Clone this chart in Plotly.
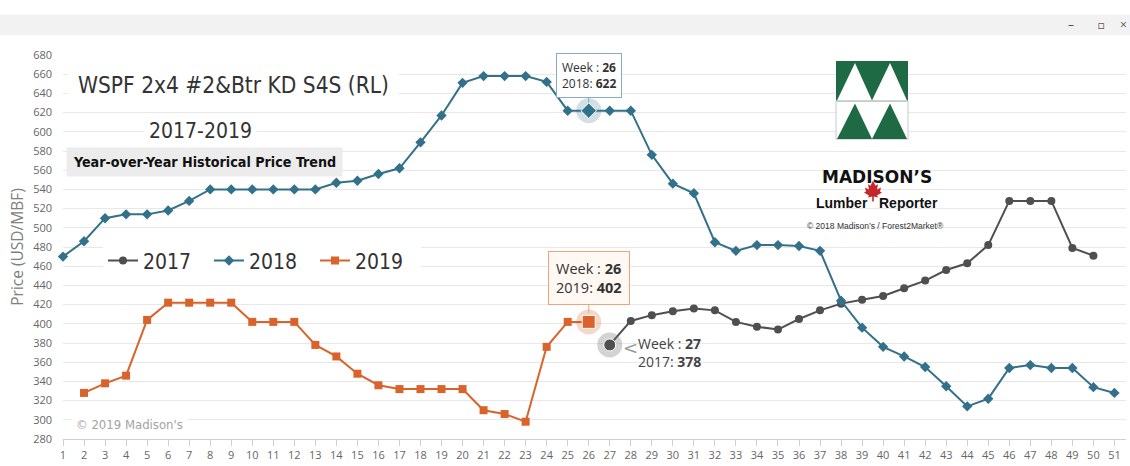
import plotly.graph_objects as go

# ---------------- data ----------------
weeks = list(range(1, 52))
week_labels = [str(w) for w in weeks]
y_ticks = [280, 300, 320, 340, 360, 380, 400, 420, 440, 460, 480, 500, 520, 540,
           560, 580, 600, 620, 640, 660, 680]

price_2017 = [None] * 26 + [378, 403, 409, 413, 416, 414, 402, 397, 394, 405, 414, 421,
                            425, 429, 437, 445, 456, 463, 482, 528, 528, 528, 479, 471] + [None]

price_2018 = [470, 486, 510, 514, 514, 518, 528, 540, 540, 540,
              540, 540, 540, 547, 549, 556, 562, 589, 617, 651,
              658, 658, 658, 652, 622, 622, 622, 622, 576, 546,
              536, 485, 476, 482, 482, 481, 476, 424, 396, 376,
              366, 355, 335, 314, 322, 354, 357, 354, 354, 334, 328]

price_2019 = [None, 328, 338, 346, 404, 422, 422, 422, 422, 402,
              402, 402, 378, 366, 348, 336, 332, 332, 332, 332,
              310, 306, 298, 376, 402, 402] + [None] * 25

series_names = ["2017", "2018", "2019"]
hl_2018 = 25   # week 26
hl_2019 = 25   # week 26
hl_2017 = 26   # week 27

# ---------------- styling ----------------
C17 = "#4f4f4f"
C18 = "#33718a"
C19 = "#d9632a"
NARROW = "DejaVu Sans Condensed, Liberation Sans Narrow, sans-serif"
BASE = "Open Sans, Lato, sans-serif"

W, H = 1130, 466
ML, MR, MT, MB = 63, 4, 55, 23
PW, PH = W - ML - MR, H - MT - MB


def px(x):
    return (x - ML) / PW


def py(y):
    return (H - MB - y) / PH


fig = go.Figure()

fig.add_trace(go.Scatter(x=weeks, y=price_2017, name=series_names[0], mode="lines+markers",
                         line=dict(color=C17, width=2),
                         marker=dict(symbol="circle", size=8, color=C17),
                         cliponaxis=False))
fig.add_trace(go.Scatter(x=weeks, y=price_2018, name=series_names[1], mode="lines+markers",
                         line=dict(color=C18, width=2),
                         marker=dict(symbol="diamond", size=8, color=C18),
                         cliponaxis=False))
fig.add_trace(go.Scatter(x=weeks, y=price_2019, name=series_names[2], mode="lines+markers",
                         line=dict(color=C19, width=2),
                         marker=dict(symbol="square", size=8, color=C19),
                         cliponaxis=False))

# highlighted (hovered) points with halo
for idx, vals, col, halo, sym, sz in [
    (hl_2018, price_2018, C18, "rgba(51,113,138,0.22)", "diamond", 12),
    (hl_2019, price_2019, C19, "rgba(217,99,42,0.25)", "square", 13),
    (hl_2017, price_2017, C17, "rgba(110,110,110,0.30)", "circle", 12),
]:
    fig.add_trace(go.Scatter(x=[weeks[idx]], y=[vals[idx]], mode="markers", showlegend=False,
                             marker=dict(symbol="circle", size=25, color=halo),
                             cliponaxis=False))
    fig.add_trace(go.Scatter(x=[weeks[idx]], y=[vals[idx]], mode="markers", showlegend=False,
                             marker=dict(symbol=sym, size=sz, color=col,
                                         line=dict(color="white", width=1)),
                             cliponaxis=False))

shapes = []
annotations = []

# window bar at top
shapes.append(dict(type="rect", xref="paper", yref="paper", x0=px(0), x1=px(W), y0=py(35), y1=py(14),
                   fillcolor="#f2f2f2", line=dict(width=0), layer="above"))
for gx, gt, gs in [(1071, "–", 12), (1101, "□", 11), (1123, "×", 12)]:
    annotations.append(dict(xref="paper", yref="paper", x=px(gx), y=py(24), text=gt, showarrow=False,
                            font=dict(family=BASE, size=gs, color="#555"), xanchor="center",
                            yanchor="middle"))

# white box behind logo
shapes.append(dict(type="rect", xref="paper", yref="paper", x0=px(807), x1=px(941), y0=py(240), y1=py(48),
                   fillcolor="white", line=dict(width=0), layer="between"))


def poly(points, fill, line=None):
    path = "M " + " L ".join(f"{px(a):.5f},{py(b):.5f}" for a, b in points) + " Z"
    return dict(type="path", xref="paper", yref="paper", path=path, fillcolor=fill,
                line=line or dict(width=0), layer="above")


GREEN = "#1d6a45"
shapes.append(dict(type="rect", xref="paper", yref="paper", x0=px(836), x1=px(908), y0=py(140), y1=py(102),
                   fillcolor="white", line=dict(color="#c8c8c8", width=1), layer="above"))
shapes.append(poly([(836, 61), (908, 61), (908, 101), (836, 101)], GREEN))
shapes.append(poly([(837, 101), (855, 63), (872, 101)], "white"))
shapes.append(poly([(872, 101), (890, 63), (907, 101)], "white"))
shapes.append(poly([(837, 140), (855, 104), (872, 140)], GREEN))
shapes.append(poly([(872, 140), (890, 104), (907, 140)], GREEN))

# maple leaf
cx, cy = 873, 193
leaf = [(0, -11), (2.5, -6), (5, -7.5), (4, -2), (8, -4), (7, 0), (9, 1), (4, 4), (5, 6), (0.8, 5),
        (0.8, 10), (-0.8, 10), (-0.8, 5), (-5, 6), (-4, 4), (-9, 1), (-7, 0), (-8, -4), (-4, -2),
        (-5, -7.5), (-2.5, -6)]
shapes.append(poly([(cx + a, cy + b) for a, b in leaf], "#c4262b"))

annotations += [
    dict(xref="paper", yref="paper", x=px(877), y=py(178), text="<b>MADISON’S</b>", showarrow=False,
         font=dict(family="DejaVu Sans", size=17, color="#111"), xanchor="center", yanchor="middle"),
    dict(xref="paper", yref="paper", x=px(877), y=py(205), text="<b>Lumber\u00a0\u00a0\u00a0Reporter</b>",
         showarrow=False, font=dict(family="Liberation Sans, Arial, sans-serif", size=14, color="#111"),
         xanchor="center", yanchor="middle"),
    dict(xref="paper", yref="paper", x=px(875), y=py(228), text="© 2018 Madison’s / Forest2Market®",
         showarrow=False, font=dict(family="Liberation Sans, Arial, sans-serif", size=8.5, color="#333"),
         xanchor="center", yanchor="middle"),
]

# titles
annotations += [
    dict(xref="paper", yref="paper", x=px(233), y=py(85), text="WSPF 2x4 #2&Btr KD S4S (RL)",
         showarrow=False, font=dict(family=NARROW, size=22.5, color="#333"), bgcolor="white",
         borderpad=9, xanchor="center", yanchor="middle"),
    dict(xref="paper", yref="paper", x=px(200), y=py(132), text="2017-2019",
         showarrow=False, font=dict(family=NARROW, size=21, color="#333"), bgcolor="white",
         borderpad=4, xanchor="center", yanchor="middle"),
    dict(xref="paper", yref="paper", x=px(204), y=py(163), text="<b>Year-over-Year Historical Price Trend</b>",
         showarrow=False, font=dict(family=NARROW, size=14.2, color="#111"), bgcolor="#ececec",
         borderpad=6, xanchor="center", yanchor="middle"),
    dict(xref="paper", yref="paper", x=px(129), y=py(428), text="© 2019 Madison's",
         showarrow=False, font=dict(family=NARROW, size=13, color="#a3a3a3"), bgcolor="white",
         borderpad=4, xanchor="center", yanchor="middle"),
]

# tooltips
annotations += [
    dict(x=weeks[hl_2018], y=price_2018[hl_2018], xref="x", yref="y",
         text=f"Week : <b>{weeks[hl_2018]}</b><br>{series_names[1]}: <b>{price_2018[hl_2018]}</b>",
         showarrow=True, arrowhead=0, arrowwidth=1, arrowcolor="#86adbd", ax=0, ay=-13, standoff=8,
         xanchor="center", yanchor="bottom",
         bgcolor="rgba(255,255,255,0.95)", bordercolor="#86adbd", borderwidth=1, borderpad=5,
         font=dict(family=BASE, size=12, color="#333"), align="left"),
    dict(x=weeks[hl_2019], y=price_2019[hl_2019], xref="x", yref="y",
         text=f"Week : <b>{weeks[hl_2019]}</b><br>{series_names[2]}: <b>{price_2019[hl_2019]}</b>",
         showarrow=True, arrowhead=0, arrowwidth=1, arrowcolor="#eea27f", ax=0, ay=-17, standoff=9,
         xanchor="center", yanchor="bottom",
         bgcolor="#fff8f3", bordercolor="#eea27f", borderwidth=1, borderpad=7,
         font=dict(family=BASE, size=14.5, color="#333"), align="left"),
    dict(x=weeks[hl_2017], y=price_2017[hl_2017], xref="x", yref="y",
         text=f"Week : <b>{weeks[hl_2017]}</b><br>{series_names[0]}: <b>{price_2017[hl_2017]}</b>",
         showarrow=False, xanchor="left", yanchor="middle", xshift=26, yshift=-8,
         font=dict(family=BASE, size=14, color="#444"), align="left"),
    dict(x=weeks[hl_2017], y=price_2017[hl_2017], xref="x", yref="y", text="<",
         showarrow=False, xanchor="left", yanchor="middle", xshift=11, yshift=-3,
         font=dict(family="DejaVu Sans ExtraLight, DejaVu Sans", size=18, color="#9a9a9a")),
]

fig.update_layout(
    width=W, height=H,
    margin=dict(l=ML, r=MR, t=MT, b=MB, pad=0),
    paper_bgcolor="white", plot_bgcolor="white",
    hovermode=False,
    showlegend=True,
    legend=dict(orientation="h", x=px(103), y=py(263), xanchor="left", yanchor="middle",
                bgcolor="white", font=dict(family=NARROW, size=21, color="#333"),
                entrywidth=61, itemwidth=30),
    xaxis=dict(range=[1, 51.55], tickmode="array", tickvals=weeks, ticktext=week_labels,
               ticks="outside", ticklen=6, tickcolor="#d0d0d0", showline=True, linecolor="#d0d0d0",
               showgrid=False, zeroline=False, tickfont=dict(family=BASE, size=11, color="#666")),
    yaxis=dict(range=[280, 680], tickmode="array", tickvals=y_ticks, ticktext=[str(v) for v in y_ticks],
               showgrid=True, gridcolor="#e8e8e8", gridwidth=1, zeroline=False, ticks="",
               ticklabelstandoff=10, tickfont=dict(family=BASE, size=11, color="#666"),
               title=dict(text="Price (USD/MBF)", font=dict(family=BASE, size=15.5, color="#808080"),
                          standoff=5)),
    shapes=shapes,
    annotations=annotations,
)

fig.write_html("out.html", config={"displayModeBar": False},
               post_script="document.body.style.margin='0';")
